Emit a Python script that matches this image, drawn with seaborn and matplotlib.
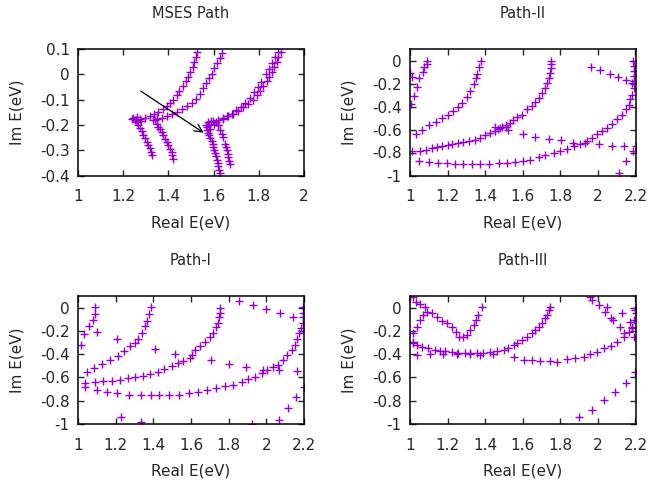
import numpy as np
import pandas as pd
import seaborn as sns
import matplotlib
matplotlib.use("Agg")
import matplotlib.pyplot as plt

# ---- MSES Path ----
mses_re = [
    # left arm a
    1.528, 1.522, 1.513, 1.507, 1.496, 1.488, 1.478, 1.463, 1.448, 1.437,
    1.422, 1.407, 1.392, 1.375, 1.355, 1.336, 1.319, 1.296, 1.274, 1.257,
    # left down branch a
    1.245, 1.252, 1.260, 1.267, 1.274, 1.281, 1.289, 1.296, 1.304, 1.311,
    1.317, 1.322, 1.326, 1.240, 1.262, 1.280,
    # arm b
    1.636, 1.628, 1.614, 1.602, 1.591, 1.581, 1.566, 1.555, 1.540, 1.522,
    1.503, 1.481, 1.459, 1.437, 1.414, 1.392, 1.370, 1.348, 1.333,
    # down branch b
    1.340, 1.348, 1.355, 1.362, 1.370, 1.377, 1.385, 1.392, 1.400, 1.407,
    1.414, 1.418, 1.422,
    # arm c
    1.897, 1.886, 1.879, 1.867, 1.857, 1.847, 1.835, 1.820, 1.805, 1.791,
    1.773, 1.754, 1.731, 1.709, 1.687, 1.665, 1.643, 1.621, 1.599,
    # second strand of arm c
    1.885, 1.872, 1.860, 1.845, 1.830, 1.810, 1.795, 1.780, 1.760, 1.740,
    1.720, 1.700, 1.680, 1.660, 1.640,
    # junction blob right
    1.565, 1.570, 1.575, 1.580, 1.585, 1.590, 1.600, 1.610, 1.620,
    # down branch c1
    1.572, 1.576, 1.581, 1.586, 1.592, 1.596, 1.599, 1.603, 1.606, 1.610,
    1.614, 1.618, 1.621, 1.625, 1.628,
    # down branch c2
    1.621, 1.628, 1.636, 1.643, 1.650, 1.654, 1.658, 1.662, 1.665, 1.670,
    1.673,
]
mses_im = [
    0.089, 0.069, 0.050, 0.030, 0.010, -0.010, -0.026, -0.047, -0.065, -0.083,
    -0.100, -0.115, -0.126, -0.139, -0.149, -0.158, -0.166, -0.171, -0.175, -0.179,
    -0.172, -0.182, -0.190, -0.200, -0.213, -0.226, -0.240, -0.253, -0.267, -0.280,
    -0.293, -0.306, -0.319, -0.178, -0.168, -0.185,
    0.085, 0.063, 0.043, 0.023, 0.003, -0.016, -0.036, -0.056, -0.076, -0.096,
    -0.113, -0.126, -0.139, -0.149, -0.158, -0.166, -0.171, -0.175, -0.179,
    -0.182, -0.195, -0.207, -0.218, -0.229, -0.241, -0.254, -0.267, -0.281, -0.294,
    -0.308, -0.320, -0.333,
    0.089, 0.069, 0.050, 0.030, 0.010, -0.010, -0.026, -0.047, -0.065, -0.083,
    -0.102, -0.118, -0.131, -0.145, -0.155, -0.166, -0.175, -0.182, -0.184,
    0.088, 0.068, 0.045, 0.022, 0.000, -0.030, -0.050, -0.070, -0.092, -0.112,
    -0.128, -0.142, -0.155, -0.165, -0.172,
    -0.200, -0.210, -0.190, -0.200, -0.215, -0.185, -0.195, -0.190, -0.200,
    -0.221, -0.231, -0.241, -0.252, -0.264, -0.276, -0.288, -0.300, -0.311, -0.324,
    -0.338, -0.351, -0.364, -0.378, -0.391,
    -0.202, -0.221, -0.235, -0.248, -0.274, -0.287, -0.300, -0.314, -0.327, -0.341,
    -0.356,
]
mses_arrow = [(1.267, -0.06), (1.566, -0.237)]

# ---- Path-II ----
path2_re = [
    1.092, 1.092, 1.077, 1.071, 1.050, 1.000, 1.010, 1.035, 1.020, 1.004,
    1.380, 1.368, 1.356, 1.350, 1.338, 1.320, 1.302, 1.279, 1.254, 1.231,
    1.201, 1.169, 1.137, 1.101, 1.066, 1.030,
    1.012, 1.053, 1.084, 1.116, 1.142, 1.172, 1.201, 1.226, 1.254, 1.284,
    1.315, 1.347, 1.373, 1.400, 1.427, 1.450, 1.470, 1.490, 1.510, 1.530,
    1.550, 1.570, 1.596, 1.622, 1.649, 1.667, 1.684, 1.702, 1.720, 1.729,
    1.738, 1.743, 1.750, 1.750, 1.750,
    1.450, 1.480, 1.510, 1.520,
    1.601, 1.665, 1.738, 1.806, 1.870, 1.933, 2.004, 2.076, 2.138, 2.200,
    1.048, 1.101, 1.151, 1.196, 1.240, 1.284, 1.330, 1.373, 1.418, 1.471,
    1.516, 1.560, 1.600, 1.640, 1.684, 1.720, 1.764, 1.800, 1.836, 1.871,
    1.907, 1.942, 1.969, 1.996, 2.022, 2.049, 2.076, 2.102, 2.129, 2.147,
    2.164, 2.173, 2.182, 2.191, 2.191, 2.191, 2.191, 2.191, 2.188,
    1.962, 2.012, 2.062, 2.108, 2.152, 2.182,
    2.188, 2.152, 2.114,
]
path2_im = [
    0.000, -0.030, -0.060, -0.100, -0.150, -0.110, -0.140, -0.230, -0.310, -0.380,
    0.000, -0.058, -0.116, -0.150, -0.200, -0.267, -0.316, -0.368, -0.406, -0.440,
    -0.475, -0.504, -0.533, -0.562, -0.600, -0.637,
    -0.783, -0.783, -0.774, -0.759, -0.754, -0.745, -0.736, -0.725, -0.716, -0.707,
    -0.696, -0.687, -0.673, -0.650, -0.629, -0.609, -0.595, -0.578, -0.560, -0.540,
    -0.515, -0.495, -0.470, -0.426, -0.397, -0.359, -0.325, -0.281, -0.238, -0.194,
    -0.151, -0.107, -0.064, -0.029, 0.000,
    -0.575, -0.590, -0.580, -0.600,
    -0.640, -0.662, -0.685, -0.695, -0.720, -0.718, -0.729, -0.740, -0.743, -0.745,
    -0.870, -0.881, -0.890, -0.890, -0.896, -0.896, -0.896, -0.896, -0.896, -0.890,
    -0.890, -0.884, -0.875, -0.861, -0.841, -0.826, -0.803, -0.788, -0.768, -0.745,
    -0.725, -0.701, -0.673, -0.638, -0.614, -0.586, -0.551, -0.513, -0.470, -0.426,
    -0.383, -0.339, -0.296, -0.238, -0.180, -0.136, -0.093, -0.049, -0.006,
    -0.056, -0.086, -0.118, -0.145, -0.166, -0.195,
    -0.790, -0.875, -0.978,
]

# ---- Path-I ----
path1_re = [
    1.092, 1.092, 1.080, 1.057, 1.034, 1.016, 1.101,
    1.385, 1.377, 1.365, 1.356, 1.338, 1.317, 1.303, 1.276, 1.246, 1.211,
    1.170, 1.129, 1.087, 1.046,
    1.207, 1.409, 1.513, 1.605, 1.705, 1.801, 1.890, 1.981, 2.069, 2.161,
    1.857, 1.928, 2.000, 2.073, 2.142,
    1.037, 1.090, 1.135, 1.179, 1.223, 1.264, 1.303, 1.347, 1.382, 1.423,
    1.458, 1.498, 1.529, 1.559, 1.595, 1.621, 1.648, 1.674, 1.701, 1.719,
    1.733, 1.745, 1.750, 1.754, 1.754,
    1.037, 1.099, 1.156, 1.209, 1.273, 1.337, 1.390, 1.432, 1.485, 1.538,
    1.591, 1.639, 1.683, 1.733, 1.781, 1.825, 1.869, 1.905, 1.940, 1.976,
    2.002, 2.037, 2.064, 2.090, 2.112, 2.135, 2.152, 2.165, 2.175, 2.183,
    2.193, 2.197, 2.197, 2.197,
    2.202, 2.160, 2.117, 2.069, 1.922, 1.230, 1.334,
]
path1_im = [
    0.003, -0.052, -0.109, -0.161, -0.228, -0.321, -0.211,
    0.005, -0.055, -0.112, -0.158, -0.215, -0.272, -0.306, -0.330, -0.370, -0.415,
    -0.450, -0.484, -0.521, -0.550,
    -0.272, -0.358, -0.398, -0.410, -0.453, -0.488, -0.510, -0.533, -0.539, -0.546,
    0.060, 0.023, -0.014, -0.046, -0.078,
    -0.645, -0.636, -0.628, -0.628, -0.622, -0.607, -0.599, -0.587, -0.570, -0.550,
    -0.530, -0.501, -0.473, -0.456, -0.435, -0.364, -0.330, -0.292, -0.255, -0.215,
    -0.169, -0.129, -0.083, -0.043, 0.000,
    -0.686, -0.710, -0.722, -0.736, -0.750, -0.750, -0.750, -0.750, -0.750, -0.750,
    -0.736, -0.722, -0.708, -0.693, -0.673, -0.665, -0.636, -0.616, -0.593, -0.564,
    -0.536, -0.513, -0.493, -0.450, -0.407, -0.364, -0.321, -0.272, -0.221, -0.178,
    -0.129, -0.083, -0.043, 0.003,
    -0.684, -0.770, -0.865, -0.962, -0.997, -0.940, -0.980,
]

# ---- Path-III ----
path3_re = [
    1.014, 1.032, 1.053, 1.080, 1.089, 1.116, 1.142, 1.169, 1.196, 1.222,
    1.245, 1.262, 1.284, 1.302, 1.320, 1.338, 1.352, 1.364, 1.382,
    1.070, 1.053, 1.036, 1.018, 1.014,
    1.018, 1.036, 1.062, 1.098, 1.133, 1.160, 1.187, 1.222, 1.258, 1.293,
    1.320, 1.356, 1.391, 1.427, 1.462, 1.498, 1.524, 1.551, 1.569, 1.596,
    1.622, 1.649, 1.667, 1.684, 1.702, 1.720, 1.729, 1.738, 1.747,
    1.036, 1.107, 1.178, 1.249, 1.320, 1.373, 1.444, 1.551, 1.604, 1.649,
    1.693, 1.747, 1.782, 1.836, 1.880, 1.924, 1.960, 1.996, 2.031, 2.067,
    2.102, 2.138, 2.164, 2.182, 2.191, 2.200, 2.200,
    1.960, 1.969, 2.004, 2.049, 2.040, 2.067, 2.081, 2.120, 2.129, 2.170,
    2.182, 2.138, 2.191, 2.195,
    1.898, 1.969, 2.031, 2.093, 2.147, 2.195,
]
path3_im = [
    0.094, 0.051, 0.031, 0.008, -0.035, -0.049, -0.078, -0.112, -0.135, -0.164,
    -0.207, -0.250, -0.255, -0.235, -0.192, -0.149, -0.106, -0.063, 0.008,
    -0.060, -0.106, -0.164, -0.221, -0.293,
    -0.300, -0.321, -0.336, -0.350, -0.364, -0.370, -0.370, -0.378, -0.387, -0.387,
    -0.392, -0.392, -0.387, -0.378, -0.370, -0.364, -0.350, -0.321, -0.307, -0.278,
    -0.250, -0.221, -0.192, -0.164, -0.129, -0.092, -0.063, -0.020, 0.008,
    -0.407, -0.398, -0.398, -0.398, -0.398, -0.407, -0.398, -0.421, -0.450, -0.450,
    -0.456, -0.456, -0.464, -0.444, -0.435, -0.421, -0.398, -0.378, -0.350, -0.330,
    -0.293, -0.250, -0.207, -0.164, -0.106, -0.049, -0.006,
    0.094, 0.067, 0.023, 0.008, -0.035, -0.092, -0.106, -0.164, -0.049, -0.121,
    -0.178, -0.221, -0.250, -0.020,
    -0.937, -0.879, -0.793, -0.722, -0.650, -0.550,
]

titles = ["MSES Path", "Path-II", "Path-I", "Path-III"]

sns.set_style("ticks")
plt.rcParams["font.family"] = ["DejaVu Sans"]
plt.rcParams["axes.unicode_minus"] = False

purple = "#9400D3"

fig = plt.figure(figsize=(6.51, 4.82), dpi=100)
W, H = 651, 482
boxes = [(78, 49, 304, 175.5), (410, 49, 635.5, 175.5),
         (78, 296, 304, 424), (410, 296, 635.5, 424)]
panels = [(mses_re, mses_im), (path2_re, path2_im),
          (path1_re, path1_im), (path3_re, path3_im)]

for k, ((l, t, r, b), (xs, ys)) in enumerate(zip(boxes, panels)):
    ax = fig.add_axes([l / W, 1 - b / H, (r - l) / W, (b - t) / H])
    df = pd.DataFrame({"re": xs, "im": ys})
    sns.scatterplot(data=df, x="re", y="im", marker="+", s=40,
                    color=purple, linewidth=1.0, ax=ax, legend=False)
    if k == 0:
        ax.set_xlim(1, 2)
        ax.set_ylim(-0.4, 0.1)
        ax.set_xticks(np.arange(1, 2.01, 0.2))
        ax.set_xticklabels(["1", "1.2", "1.4", "1.6", "1.8", "2"])
        ax.set_yticks(np.arange(-0.4, 0.11, 0.1))
        ax.set_yticklabels(["-0.4", "-0.3", "-0.2", "-0.1", "0", "0.1"])
        ax.annotate("", xy=mses_arrow[1], xytext=mses_arrow[0],
                    arrowprops=dict(arrowstyle="->", color="black", lw=0.9,
                                    mutation_scale=14))
    else:
        ax.set_xlim(1, 2.2)
        ax.set_ylim(-1, 0.1)
        ax.set_xticks(np.arange(1, 2.21, 0.2))
        ax.set_xticklabels(["1", "1.2", "1.4", "1.6", "1.8", "2", "2.2"])
        ax.set_yticks(np.arange(-1, 0.01, 0.2))
        ax.set_yticklabels(["-1", "-0.8", "-0.6", "-0.4", "-0.2", "0"])
    ax.tick_params(direction="in", top=True, right=True, length=4,
                   width=1, labelsize=11)
    ax.tick_params(axis="x", pad=10)
    ax.tick_params(axis="y", pad=6)
    for sp in ax.spines.values():
        sp.set_linewidth(1.1)
        sp.set_color("black")
    ax.set_title(titles[k], fontsize=10.5, pad=22)
    ax.set_xlabel("Real E(eV)", fontsize=11, labelpad=8)
    ax.set_ylabel("Im E(eV)", fontsize=11, labelpad=11)

fig.savefig("out.png", dpi=100)
